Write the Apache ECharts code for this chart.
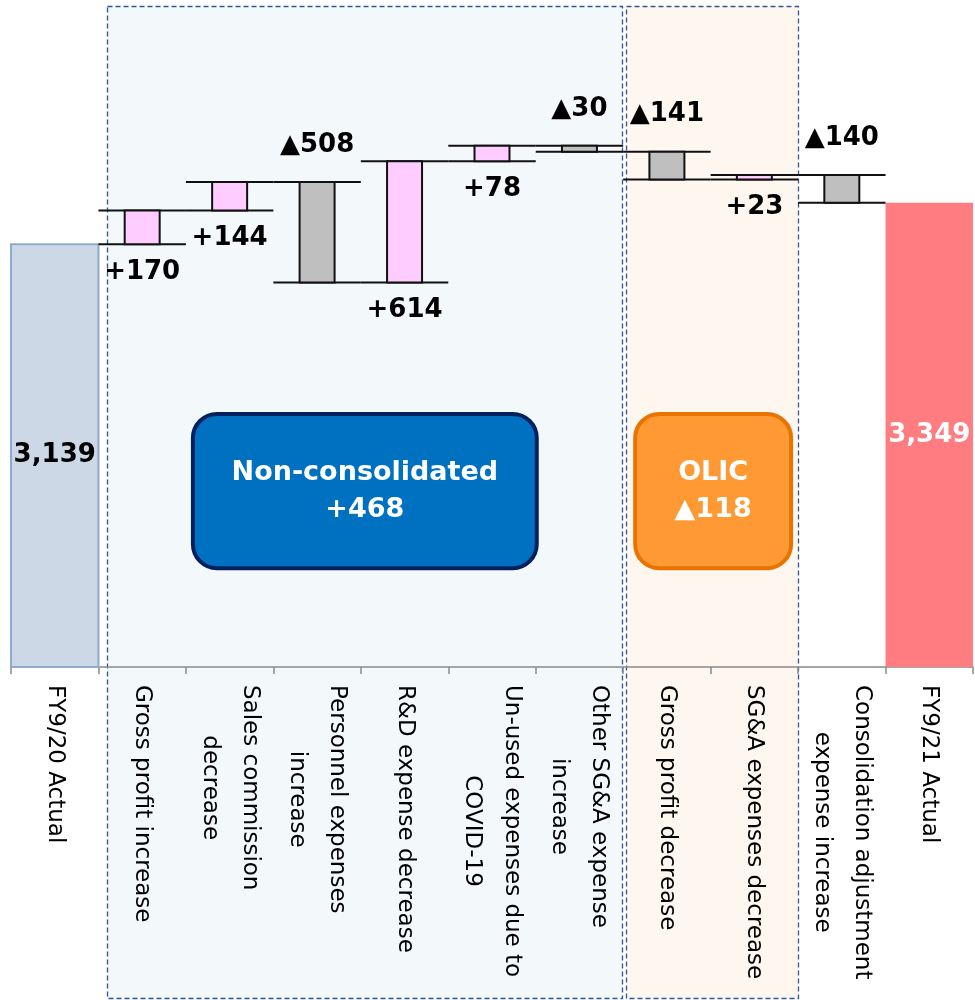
<!DOCTYPE html>
<html><head><meta charset="utf-8">
<script src="https://cdn.jsdelivr.net/npm/echarts@6/dist/echarts.min.js"></script>
<style>html,body{margin:0;padding:0;background:#fff}#c{width:975px;height:1000px}</style>
</head><body><div id="c"></div>
<script>
// ---- data ----
const categories = [
  'FY9/20 Actual',
  'Gross profit increase',
  'Sales commission\ndecrease',
  'Personnel expenses\nincrease',
  'R&D expense decrease',
  'Un-used expenses due to\nCOVID-19',
  'Other SG&A expense\nincrease',
  'Gross profit decrease',
  'SG&A expenses decrease',
  'Consolidation adjustment\nexpense increase',
  'FY9/21 Actual'
];
const startValue = 3139;
const deltas = [170, 144, -508, 614, 78, -30, -141, 23, -140];
const endValue = 3349;
const groupNonConsolidated = { name: 'Non-consolidated', from: 1, to: 6 };
const groupOLIC = { name: 'OLIC', from: 7, to: 8 };

// ---- derived rows ----
const totalsData = [[0, startValue], [categories.length - 1, endValue]];
const stepData = [];
let level = startValue;
deltas.forEach((d, i) => {
  stepData.push([i + 1, Math.min(level, level + d), Math.max(level, level + d), d]);
  level += d;
});
const fmtNum = v => Math.abs(v).toLocaleString('en-US');
const fmtDelta = d => (d >= 0 ? '+' : '▲') + fmtNum(d);
const groupSum = g => deltas.slice(g.from - 1, g.to).reduce((a, b) => a + b, 0);

const FONT = '"DejaVu Sans", Verdana, sans-serif';
const Y_MIN = 1000, Y_MAX = 4000;

const chart = echarts.init(document.getElementById('c'), null, { renderer: 'canvas' });
chart.setOption({
  animation: false,
  backgroundColor: '#ffffff',
  grid: { left: 11, right: 2, top: 74, bottom: 333, containLabel: false },
  xAxis: {
    type: 'category',
    data: categories,
    boundaryGap: true,
    z: 5,
    axisLine: { lineStyle: { color: '#8a8a8a', width: 1.5 } },
    axisTick: { show: true, length: 7, interval: 0, lineStyle: { color: '#8a8a8a', width: 1.5 } },
    axisLabel: {
      interval: 0,
      rotate: -90,
      margin: 18,
      color: '#000',
      fontFamily: FONT,
      fontSize: 23,
      lineHeight: 40,
      formatter: v => v.split('\n').map(s => '{c|' + s + '}').join('\n'),
      rich: { c: { align: 'center', fontFamily: FONT, fontSize: 23, lineHeight: 40, color: '#000' } }
    }
  },
  yAxis: { type: 'value', min: Y_MIN, max: Y_MAX, show: false, splitLine: { show: false } },
  series: [
    {
      type: 'custom',
      name: 'totals',
      z: 6,
      data: totalsData,
      renderItem: (params, api) => {
        const idx = api.value(0), val = api.value(1);
        const top = api.coord([idx, val]);
        const bottom = params.coordSys.y + params.coordSys.height;
        const bw = api.size([1, 0])[0];
        const first = idx === 0;
        return {
          type: 'group',
          children: [
            { type: 'rect', shape: { x: top[0] - bw / 2, y: top[1], width: bw, height: bottom - top[1] },
              style: first ? { fill: '#cdd8e6', stroke: '#8eaacc', lineWidth: 2 } : { fill: '#ff7c80' } },
            { type: 'text', x: top[0], y: (top[1] + bottom) / 2,
              style: { text: fmtNum(val), font: 'bold 26px ' + FONT, fill: first ? '#000' : '#fff', align: 'center', verticalAlign: 'middle' } }
          ]
        };
      }
    },
    {
      type: 'custom',
      name: 'steps',
      z: 6,
      data: stepData,
      renderItem: (params, api) => {
        const idx = api.value(0), lo = api.value(1), hi = api.value(2), d = api.value(3);
        const top = api.coord([idx, hi]);
        const bot = api.coord([idx, lo]);
        const bw = api.size([1, 0])[0];
        const cx = top[0], rw = bw * 0.4;
        const ls = { stroke: '#111', lineWidth: 2 };
        return {
          type: 'group',
          children: [
            { type: 'line', shape: { x1: cx - bw / 2, y1: top[1], x2: cx + bw / 2, y2: top[1] }, style: ls },
            { type: 'line', shape: { x1: cx - bw / 2, y1: bot[1], x2: cx + bw / 2, y2: bot[1] }, style: ls },
            { type: 'rect', shape: { x: cx - rw / 2, y: top[1], width: rw, height: bot[1] - top[1] },
              style: { fill: d >= 0 ? '#ffccff' : '#bfbfbf', stroke: '#111', lineWidth: 2 } },
            { type: 'text', x: cx, y: d >= 0 ? bot[1] + 28 : top[1] - 37,
              style: { text: fmtDelta(d), font: 'bold 26px ' + FONT, fill: '#000', align: 'center', verticalAlign: 'middle' } }
          ]
        };
      }
    }
  ]
});

// ---- annotation boxes, positioned from the axis ----
const cx = i => chart.convertToPixel({ xAxisIndex: 0 }, categories[i]);
const bw = cx(1) - cx(0);
const yPx = v => chart.convertToPixel({ yAxisIndex: 0 }, v);
const bgTop = 6.5, bgBottom = 998.5;
const g1L = Math.round(cx(groupNonConsolidated.from) - bw / 2 + 9) + 0.5;
const g1R = Math.round(cx(groupNonConsolidated.to) + bw / 2 - 1) + 0.5;
const g2L = Math.round(cx(groupOLIC.from) - bw / 2 + 3) + 0.5;
const g2R = Math.round(cx(groupOLIC.to) + bw / 2) + 0.5;
const boxTop = yPx(2280), boxBot = yPx(1500);
const b1L = cx(2) - bw / 2 + 7, b1R = cx(5) + bw / 2 + 1;
const b2L = cx(groupOLIC.from) - bw / 2 + 12, b2R = cx(groupOLIC.to) + bw / 2 - 7;
const dash = { stroke: '#2f5597', lineWidth: 1.3, lineDash: [5, 3] };
const s1 = groupSum(groupNonConsolidated), s2 = groupSum(groupOLIC);

chart.setOption({
  graphic: [
    { type: 'rect', z: 1, shape: { x: g1L, y: bgTop, width: g1R - g1L, height: bgBottom - bgTop },
      style: Object.assign({ fill: '#f3f8fb' }, dash) },
    { type: 'rect', z: 1, shape: { x: g2L, y: bgTop, width: g2R - g2L, height: bgBottom - bgTop },
      style: Object.assign({ fill: '#fdf7f0' }, dash) },
    { type: 'rect', z: 10, shape: { x: b1L, y: boxTop, width: b1R - b1L, height: boxBot - boxTop, r: 24 },
      style: { fill: '#0070c0', stroke: '#002060', lineWidth: 4 } },
    { type: 'text', z: 11, x: (b1L + b1R) / 2, y: (boxTop + boxBot) / 2,
      style: { text: groupNonConsolidated.name + '\n' + fmtDelta(s1), font: 'bold 27px ' + FONT, lineHeight: 37,
               fill: '#fff', align: 'center', verticalAlign: 'middle' } },
    { type: 'rect', z: 10, shape: { x: b2L, y: boxTop, width: b2R - b2L, height: boxBot - boxTop, r: 24 },
      style: { fill: '#ff9933', stroke: '#e97300', lineWidth: 4 } },
    { type: 'text', z: 11, x: (b2L + b2R) / 2, y: (boxTop + boxBot) / 2,
      style: { text: groupOLIC.name + '\n' + fmtDelta(s2), font: 'bold 27px ' + FONT, lineHeight: 37,
               fill: '#fff', align: 'center', verticalAlign: 'middle' } }
  ]
});
</script>
</body></html>
